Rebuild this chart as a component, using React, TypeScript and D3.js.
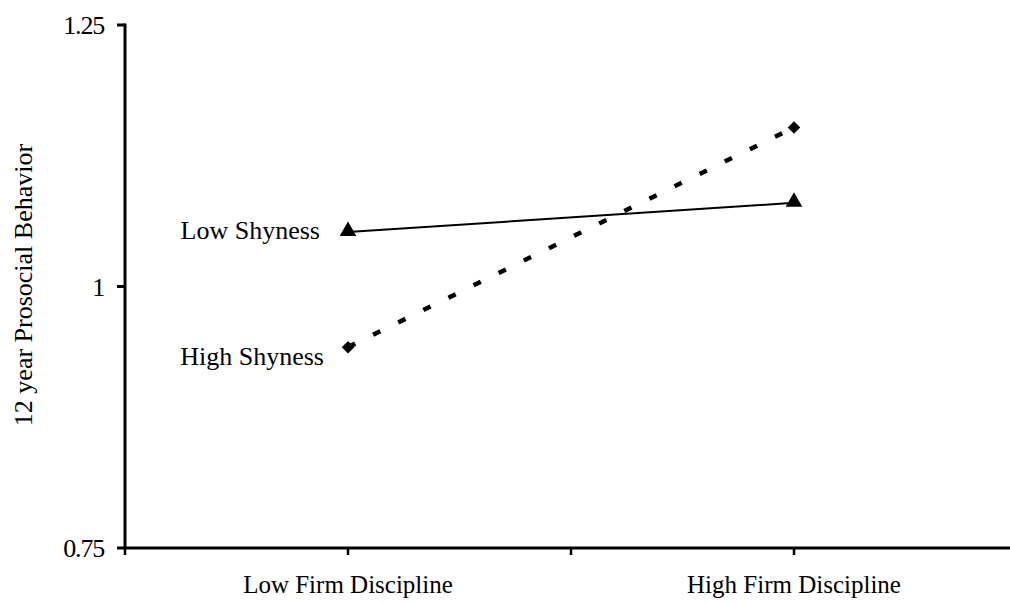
import React from "react";
import * as d3 from "d3";

const categories = ["Low Firm Discipline", "High Firm Discipline"];
const lowShyness = [1.052, 1.080];
const highShyness = [0.942, 1.152];
const yTicks = [0.75, 1, 1.25];
const seriesNames = ["Low Shyness", "High Shyness"];

const W = 1010;
const H = 604;

export default function App() {
  const x = d3.scaleBand<string>().domain(categories).range([125, 1017]).padding(0);
  const cx = (c: string) => (x(c) as number) + x.bandwidth() / 2;
  const y = d3.scaleLinear().domain([0.75, 1.25]).range([548, 25]);
  const line = d3
    .line<number>()
    .x((_, i) => cx(categories[i]))
    .y((d) => y(d));

  const xTickPos: number[] = [];
  categories.forEach((c) => {
    xTickPos.push(x(c) as number);
    xTickPos.push(cx(c));
  });

  const font = "'Liberation Serif', 'Times New Roman', serif";
  const fs = 25;
  const tri = d3.symbol().type(d3.symbolTriangle).size(120)();
  const dia = d3.symbol().type(d3.symbolSquare).size(78)();

  return (
    <svg
      width={W}
      height={H}
      style={{ position: "absolute", left: 0, top: 0, background: "#fff" }}
      fontFamily={font}
    >
      {/* y axis */}
      <line x1={125} x2={125} y1={y(1.25) - 1.5} y2={y(0.75)} stroke="#000" strokeWidth={3} />
      {yTicks.map((t) => (
        <g key={t}>
          <line x1={117} x2={125} y1={y(t)} y2={y(t)} stroke="#000" strokeWidth={3} />
          <text x={104} y={y(t)} dy="0.35em" textAnchor="end" fontSize={26} letterSpacing={-1.2} fill="#000">
            {t}
          </text>
        </g>
      ))}
      {/* x axis */}
      <line x1={123.5} x2={W} y1={548} y2={548} stroke="#000" strokeWidth={3} />
      {xTickPos.map((p, i) => (
        <line key={i} x1={p} x2={p} y1={548} y2={555} stroke="#000" strokeWidth={2.5} />
      ))}
      {categories.map((c) => (
        <text key={c} x={cx(c)} y={593} textAnchor="middle" fontSize={fs} fill="#000">
          {c}
        </text>
      ))}
      {/* y label */}
      <text
        transform={`translate(32,${285}) rotate(-90)`}
        textAnchor="middle"
        fontSize={26}
        fill="#000"
      >
        12 year Prosocial Behavior
      </text>
      {/* lines */}
      <path d={line(lowShyness) as string} fill="none" stroke="#000" strokeWidth={2} />
      <path
        d={line(highShyness) as string}
        fill="none"
        stroke="#000"
        strokeWidth={4.5}
        strokeDasharray="8 20"
      />
      {lowShyness.map((v, i) => (
        <path key={"l" + i} d={tri as string} transform={`translate(${cx(categories[i])},${y(v) - 1})`} fill="#000" />
      ))}
      {highShyness.map((v, i) => (
        <path key={"h" + i} d={dia as string} transform={`translate(${cx(categories[i])},${y(v)}) rotate(45)`} fill="#000" />
      ))}
      <text x={320} y={239} textAnchor="end" fontSize={26} fill="#000">
        {seriesNames[0]}
      </text>
      <text x={324} y={365} textAnchor="end" fontSize={26} fill="#000">
        {seriesNames[1]}
      </text>
    </svg>
  );
}
